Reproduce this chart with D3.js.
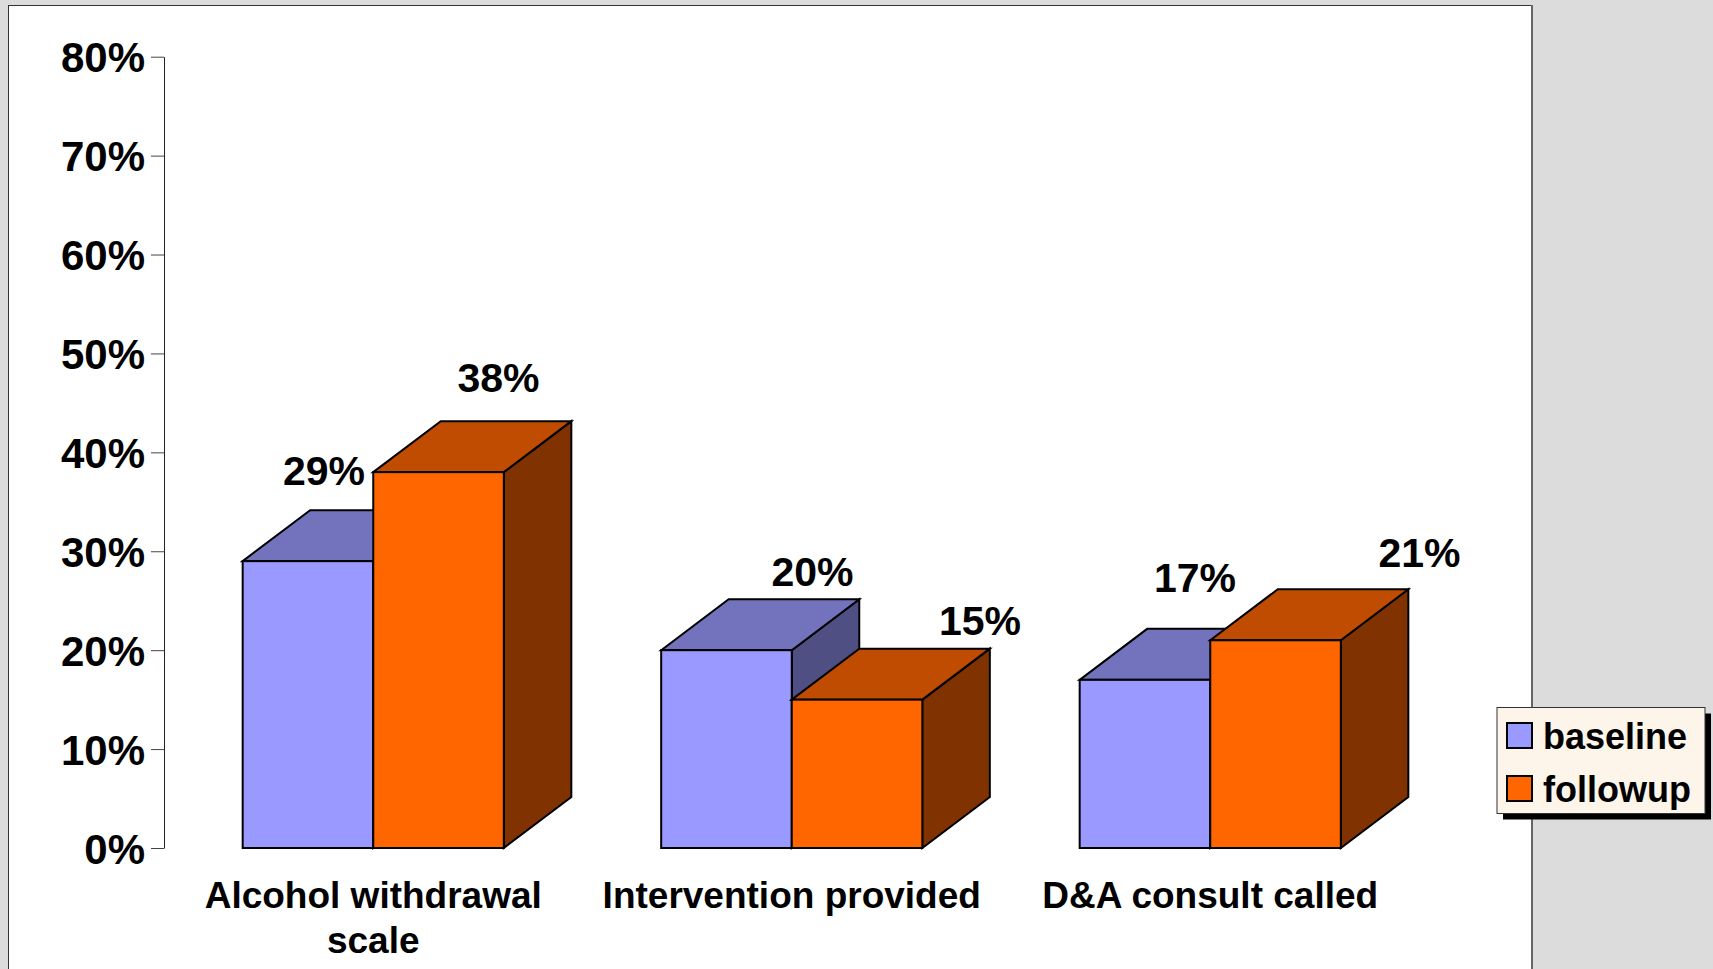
<!DOCTYPE html>
<html>
<head>
<meta charset="utf-8">
<script src="https://cdn.jsdelivr.net/npm/d3@7"></script>
<style>
body { margin: 0; background: #dcdcdc; }
svg text { font-family: "Liberation Sans", Arial, sans-serif; font-weight: bold; fill: #000; }
</style>
</head>
<body>
<div class="chart"></div>
<script>
var categories = ["Alcohol withdrawal scale", "Intervention provided", "D&A consult called"];
var seriesNames = ["baseline", "followup"];
var baseline = [29, 20, 17];
var followup = [38, 15, 21];
var yTicks = [0, 10, 20, 30, 40, 50, 60, 70, 80];

// hand placed value labels in the original, nudged from the bar top
var baselineNudge = [[16, -25], [86, -13], [50, -37]];
var followupNudge = [[60, -29], [123, -14], [144, -22]];

var colors = {
    baseline: {front: "#9999ff", top: "#7373bd", side: "#4f4f84"},
    followup: {front: "#ff6600", top: "#bf4c00", side: "#803300"}
};

var width = 1713, height = 969,
    depthX = 67.5, depthY = 51;  // 3d offset of the back faces

var svg = d3.select(".chart").append("svg")
    .attr("width", width)
    .attr("height", height);

// white plot sheet
svg.append("rect")
    .attr("x", 8.5).attr("y", 5.5)
    .attr("width", 1523).attr("height", 980)
    .attr("fill", "#fff")
    .attr("stroke", "#333")
    .attr("stroke-width", 1);
svg.append("line")
    .attr("x1", 1532).attr("x2", 1532)
    .attr("y1", 5).attr("y2", height)
    .attr("stroke", "#666")
    .attr("stroke-width", 2);

var y = d3.scaleLinear().domain([0, 80]).range([848, 56.7]);

var x = d3.scaleBand()
    .domain(categories)
    .range([164, 1419.5])
    .paddingInner(0.376)
    .paddingOuter(0.188);

var xs = d3.scaleBand()
    .domain(seriesNames)
    .range([0, x.bandwidth()]);

// y axis
var yAxis = svg.append("g")
    .attr("transform", "translate(164,0)")
    .call(d3.axisLeft(y)
        .tickValues(yTicks)
        .tickSize(13)
        .tickSizeOuter(0)
        .tickPadding(6)
        .tickFormat(function(d) { return d + "%"; }));
yAxis.select(".domain").attr("stroke", "#222");
yAxis.selectAll(".tick line").attr("stroke", "#444");
yAxis.selectAll(".tick text")
    .attr("font-size", 42)
    .attr("font-family", null)
    .attr("dy", "0.36em");

// build bars
var bars = [];
categories.forEach(function(c, i) {
    bars.push({cat: c, series: "baseline", value: baseline[i], nudge: baselineNudge[i]});
    bars.push({cat: c, series: "followup", value: followup[i], nudge: followupNudge[i]});
});

function pts(a) { return a.map(function(p) { return p.join(","); }).join(" "); }

var bar = svg.selectAll(".bar")
    .data(bars)
    .enter().append("g")
    .attr("class", "bar");

bar.each(function(d) {
    var g = d3.select(this),
        x0 = x(d.cat) + xs(d.series),
        x1 = x0 + xs.bandwidth(),
        yt = y(d.value),
        yb = y(0),
        c = colors[d.series];

    g.append("polygon")  // side
        .attr("points", pts([[x1, yt], [x1 + depthX, yt - depthY], [x1 + depthX, yb - depthY], [x1, yb]]))
        .attr("fill", c.side);
    g.append("polygon")  // top
        .attr("points", pts([[x0, yt], [x0 + depthX, yt - depthY], [x1 + depthX, yt - depthY], [x1, yt]]))
        .attr("fill", c.top);
    g.append("rect")  // front
        .attr("x", x0).attr("y", yt)
        .attr("width", x1 - x0).attr("height", yb - yt)
        .attr("fill", c.front);
    g.selectAll("polygon, rect")
        .attr("stroke", "#000")
        .attr("stroke-width", 2)
        .attr("stroke-linejoin", "miter");
});

svg.selectAll(".value-label")
    .data(bars)
    .enter().append("text")
    .attr("class", "value-label")
    .attr("x", function(d) { return x(d.cat) + xs(d.series) + xs.bandwidth() / 2 + d.nudge[0]; })
    .attr("y", function(d) { return y(d.value) - depthY + d.nudge[1]; })
    .attr("text-anchor", "middle")
    .attr("font-size", 41)
    .text(function(d) { return d.value + "%"; });

// category labels, wrapped to the band step
function wrap(text, w) {
    text.each(function() {
        var t = d3.select(this),
            words = t.text().split(/\s+/),
            line = [], lineNo = 0,
            xx = t.attr("x"),
            tspan = t.text(null).append("tspan").attr("x", xx);
        words.forEach(function(word) {
            line.push(word);
            tspan.text(line.join(" "));
            if (tspan.node().getComputedTextLength() > w && line.length > 1) {
                line.pop();
                tspan.text(line.join(" "));
                line = [word];
                tspan = t.append("tspan").attr("x", xx).attr("dy", 45).text(word);
                lineNo++;
            }
        });
    });
}

svg.selectAll(".category-label")
    .data(categories)
    .enter().append("text")
    .attr("class", "category-label")
    .attr("x", function(d) { return x(d) + x.bandwidth() / 2; })
    .attr("y", 908)
    .attr("text-anchor", "middle")
    .attr("font-size", 37)
    .text(function(d) { return d; })
    .call(wrap, x.step());

// legend
var legend = svg.append("g").attr("transform", "translate(1497,707.5)");
legend.append("rect")
    .attr("x", 6).attr("y", 6)
    .attr("width", 208).attr("height", 106)
    .attr("fill", "#000");
legend.append("rect")
    .attr("width", 208).attr("height", 106)
    .attr("fill", "#fdf5e9")
    .attr("stroke", "#333")
    .attr("stroke-width", 1);

var item = legend.selectAll(".item")
    .data(seriesNames)
    .enter().append("g")
    .attr("class", "item")
    .attr("transform", function(d, i) { return "translate(10," + (15.5 + i * 53) + ")"; });
item.append("rect")
    .attr("width", 25).attr("height", 25)
    .attr("fill", function(d) { return colors[d].front; })
    .attr("stroke", "#000")
    .attr("stroke-width", 2);
item.append("text")
    .attr("x", 36)
    .attr("y", 26)
    .attr("font-size", 36)
    .text(function(d) { return d; });
</script>
</body>
</html>
